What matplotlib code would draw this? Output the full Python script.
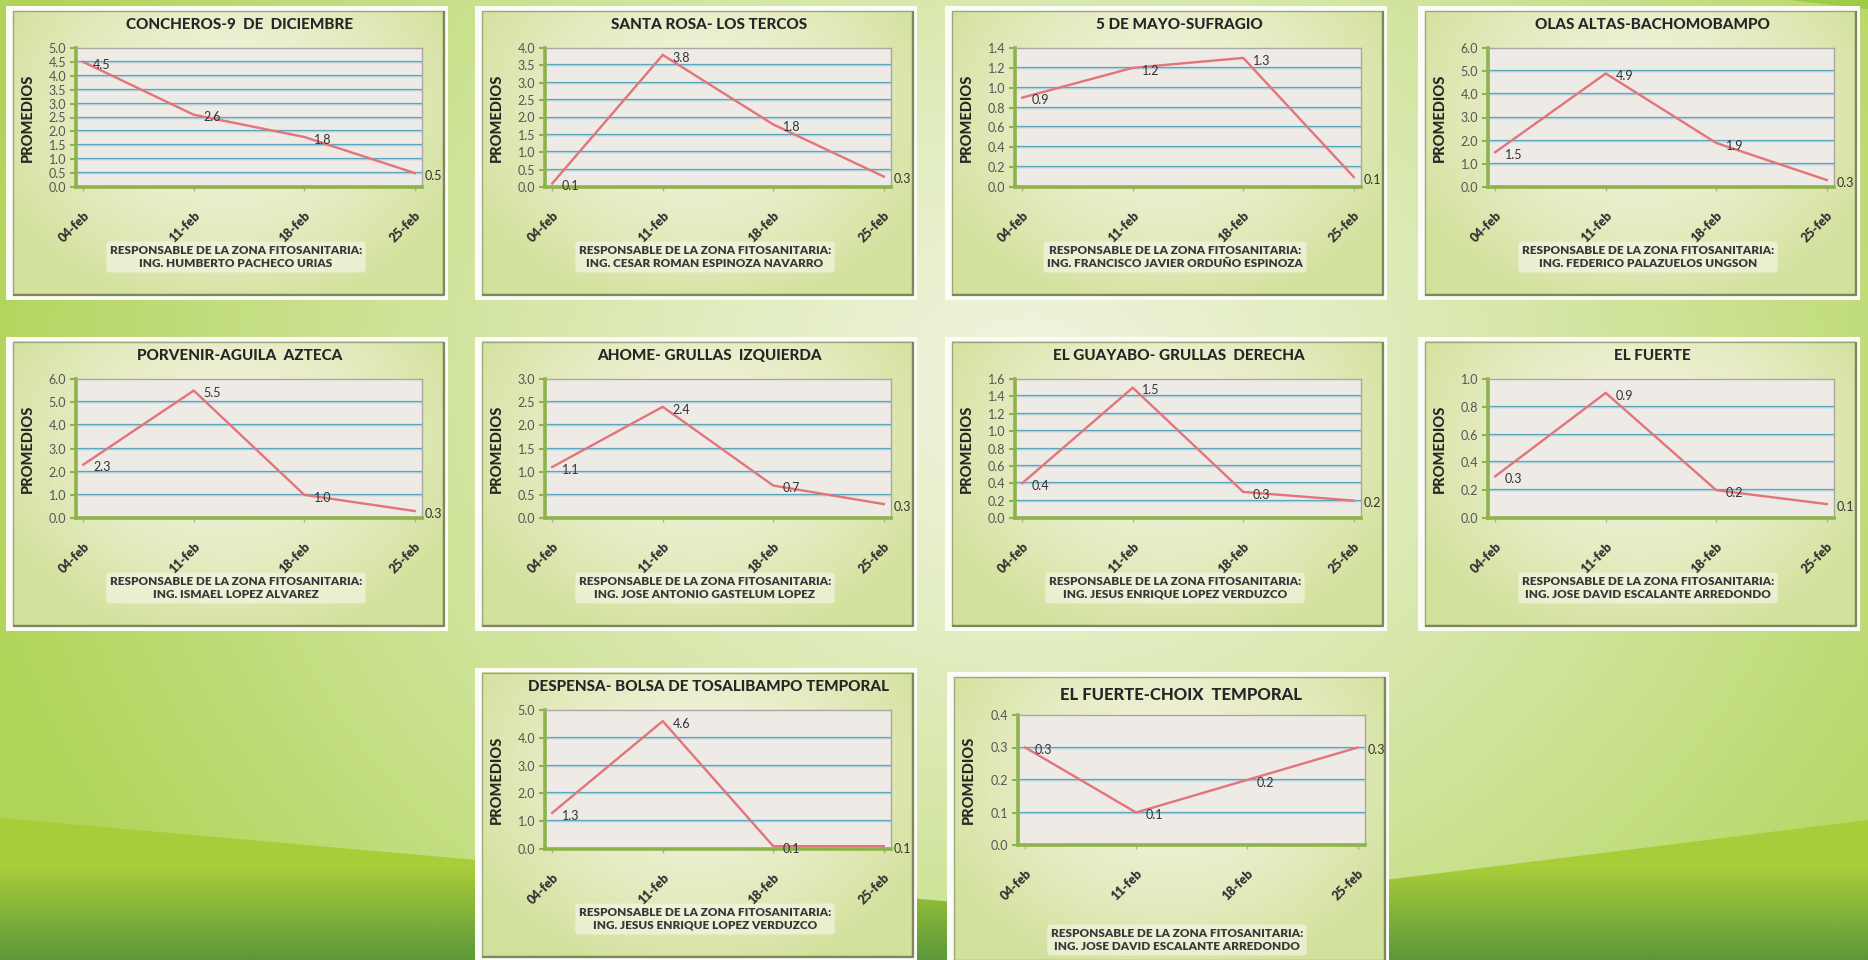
import numpy as np
import matplotlib.pyplot as plt
from matplotlib.patches import Rectangle, Polygon

# ==========================================
# DATOS
# ==========================================
FECHAS = ['04-feb', '11-feb', '18-feb', '25-feb']

CONCHEROS = [4.5, 2.6, 1.8, 0.5]
SANTA_ROSA = [0.1, 3.8, 1.8, 0.3]
CINCO_MAYO = [0.9, 1.2, 1.3, 0.1]
OLAS_ALTAS = [1.5, 4.9, 1.9, 0.3]
PORVENIR = [2.3, 5.5, 1.0, 0.3]
AHOME = [1.1, 2.4, 0.7, 0.3]
GUAYABO = [0.4, 1.5, 0.3, 0.2]
EL_FUERTE = [0.3, 0.9, 0.2, 0.1]
DESPENSA = [1.3, 4.6, 0.1, 0.1]
CHOIX = [0.3, 0.1, 0.2, 0.3]

TITULOS = ['CONCHEROS-9  DE  DICIEMBRE', 'SANTA ROSA- LOS TERCOS', '5 DE MAYO-SUFRAGIO',
           'OLAS ALTAS-BACHOMOBAMPO', 'PORVENIR-AGUILA  AZTECA', 'AHOME- GRULLAS  IZQUIERDA',
           'EL GUAYABO- GRULLAS  DERECHA', 'EL FUERTE',
           'DESPENSA- BOLSA DE TOSALIBAMPO TEMPORAL', 'EL FUERTE-CHOIX  TEMPORAL']

RESPONSABLES = ['ING. HUMBERTO PACHECO URIAS', 'ING. CESAR ROMAN ESPINOZA NAVARRO',
                'ING. FRANCISCO JAVIER ORDUÑO ESPINOZA', 'ING. FEDERICO PALAZUELOS UNGSON',
                'ING. ISMAEL LOPEZ ALVAREZ', 'ING. JOSE ANTONIO GASTELUM LOPEZ',
                'ING. JESUS ENRIQUE LOPEZ VERDUZCO', 'ING. JOSE DAVID ESCALANTE ARREDONDO',
                'ING. JESUS ENRIQUE LOPEZ VERDUZCO', 'ING. JOSE DAVID ESCALANTE ARREDONDO']

Y_MAX = [5.0, 4.0, 1.4, 6.0, 6.0, 3.0, 1.6, 1.0, 5.0, 0.4]
Y_PASO = [0.5, 0.5, 0.2, 1.0, 1.0, 0.5, 0.2, 0.2, 1.0, 0.1]

SERIES = [CONCHEROS, SANTA_ROSA, CINCO_MAYO, OLAS_ALTAS, PORVENIR,
          AHOME, GUAYABO, EL_FUERTE, DESPENSA, CHOIX]

# ==========================================
# LAYOUT (pixeles)
# ==========================================
FIG_W, FIG_H = 1868, 960
PANEL_POS = [(6, 6), (475, 6), (945, 6), (1418, 6),
             (6, 337), (475, 337), (945, 337), (1418, 337),
             (475, 668), (947, 672)]
PW, PH = 442, 294
# caja de la grafica (izq, der, arriba, abajo), y del titulo, y del texto inferior, tamano del titulo
LAYOUT_STD = (70, 416, 42, 181, 19, 251, 11)
LAYOUT_CHOIX = (71, 418, 43, 173, 23, 268, 12)

plt.rcParams['font.family'] = ['Lato', 'DejaVu Sans']

fig = plt.figure(figsize=(FIG_W / 100, FIG_H / 100), dpi=100)


def lerp(c1, c2, t):
    c1 = np.array(c1) / 255.0
    c2 = np.array(c2) / 255.0
    return c1[None, None, :] * (1 - t[..., None]) + c2[None, None, :] * t[..., None]


# ---- fondo de la diapositiva ----
bg = fig.add_axes([0, 0, 1, 1])
bg.axis('off')

yy, xx = np.mgrid[0:FIG_H:4, 0:FIG_W:4]
u = (xx / FIG_W - 0.55) / 0.58
v = (yy / FIG_H - 0.40) / 0.95
t = np.clip(np.sqrt(u ** 2 + v ** 2), 0, 1) ** 1.2
bg.imshow(lerp((240, 244, 222), (176, 212, 88), t), extent=(0, FIG_W, FIG_H, 0), aspect='auto')

# franja verde inferior
gy = np.linspace(0, 1, 200)[:, None] * np.ones((1, 4))
tb = np.clip((gy - 0.35) / 0.65, 0, 1)
franja = Polygon([(0, 818), (1102, 915), (1868, 820), (1868, 960), (0, 960)],
                 closed=True, facecolor='none', edgecolor='none')
bg.add_patch(franja)
im = bg.imshow(lerp((168, 205, 58), (92, 152, 58), tb), extent=(0, FIG_W, 960, 818), aspect='auto')
im.set_clip_path(franja)
bg.add_patch(Polygon([(1790, 0), (1868, 0), (1868, 9)], closed=True, facecolor='#9ccb45', edgecolor='none'))
bg.set_xlim(0, FIG_W)
bg.set_ylim(FIG_H, 0)


def px_rect(x0, y0, w, h):
    return [x0 / FIG_W, 1 - (y0 + h) / FIG_H, w / FIG_W, h / FIG_H]


# gradiente interior del panel
gy2, gx2 = np.mgrid[0:1:100j, 0:1:150j]
tp = np.clip(np.sqrt(((gx2 - 0.5) / 0.6) ** 2 + ((gy2 - 0.35) / 0.75) ** 2), 0, 1) ** 1.5
PANEL_IMG = lerp((243, 243, 222), (210, 225, 155), tp)

for k in range(len(SERIES)):
    x0, y0 = PANEL_POS[k]
    valores = SERIES[k]
    pl, pr, pt, pb, ty, ly, tfs = LAYOUT_CHOIX if k == 9 else LAYOUT_STD

    # ---- marco del panel ----
    pa = fig.add_axes(px_rect(x0, y0, PW, PH))
    pa.axis('off')
    pa.add_patch(Rectangle((0, 0), PW, PH, facecolor='#fbfcf6', edgecolor='none'))
    pa.imshow(PANEL_IMG, extent=(7, PW - 5, PH - 6, 5), aspect='auto', zorder=2)
    pa.add_patch(Rectangle((7, 5), PW - 12, PH - 11, facecolor='none',
                           edgecolor='#9ea77c', lw=1.0, zorder=3))
    pa.plot([8, PW - 4, PW - 4], [PH - 5, PH - 5, 6], color='#7d875c', lw=1.6, zorder=3)
    pa.set_xlim(0, PW)
    pa.set_ylim(PH, 0)

    pa.text(234, ty, TITULOS[k], ha='center', va='center',
            fontsize=tfs, fontweight='black', color='#262626', zorder=4)
    pa.text(22, (pt + pb) / 2, 'PROMEDIOS', rotation=90, ha='center', va='center',
            fontsize=10.5, fontweight='black', color='#262626', zorder=4)
    pa.text(230, ly, 'RESPONSABLE DE LA ZONA FITOSANITARIA:\n' + RESPONSABLES[k],
            ha='center', va='center', fontsize=8.5, fontweight='heavy', color='#383838',
            linespacing=1.2, zorder=4,
            bbox=dict(boxstyle='round,pad=0.3', facecolor='#f7f8ec', edgecolor='none', alpha=0.6))

    # ---- grafica ----
    ax = fig.add_axes(px_rect(x0 + pl, y0 + pt, pr - pl, pb - pt))
    ax.set_facecolor('#eeeae5')
    ymax = Y_MAX[k]
    paso = Y_PASO[k]
    ticks = np.round(np.arange(0, ymax + paso / 2, paso), 2)
    ax.set_ylim(0, ymax)
    ax.set_xlim(-0.065, 3.065)
    for g in ticks[1:-1]:
        ax.axhline(g, color='#5aa6bd', lw=1.6, zorder=1)
        ax.axhline(g, color='#ffffff', lw=0.6, alpha=0.6, zorder=1)

    ax.plot(range(len(FECHAS)), valores, color='#e2747a', lw=1.7, zorder=3,
            solid_joinstyle='miter', clip_on=False)
    for i, val in enumerate(valores):
        ax.annotate(f'{val:.1f}', (i, val), xytext=(7, -2), textcoords='offset points',
                    ha='left', va='center', fontsize=9, color='#333333', annotation_clip=False)

    ax.set_yticks(ticks)
    ax.set_yticklabels([f'{t:.1f}' for t in ticks], fontsize=9, color='#555555')
    ax.set_xticks(range(len(FECHAS)))
    ax.set_xticklabels(FECHAS, rotation=45, ha='right', va='top', rotation_mode='anchor',
                       fontsize=9, fontweight='heavy', color='#333333')
    ax.tick_params(axis='y', length=4, width=1.5, color='#8db34a', pad=3)
    ax.tick_params(axis='x', length=3, width=1, color='#b0b0a0', pad=13)

    for s in ['top', 'right']:
        ax.spines[s].set_color('#a8a8a0')
        ax.spines[s].set_linewidth(1.0)
    for s in ['left', 'bottom']:
        ax.spines[s].set_color('#8db34a')
        ax.spines[s].set_linewidth(2.6)

fig.savefig('out.png', dpi=100)
